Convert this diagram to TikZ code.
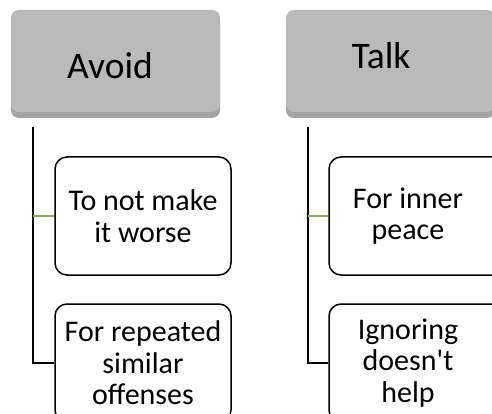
\documentclass[tikz,border=0pt]{standalone}
\usepackage{fontspec}
\setmainfont{Carlito}
\usepackage{xcolor}
\usepackage{tikz}
\usetikzlibrary{positioning, shadows}

\definecolor{headfill}{HTML}{BABABA}
\definecolor{headshade}{HTML}{A4A4A4}
\definecolor{linkgreen}{HTML}{8DAA55}

\begin{document}
\begin{tikzpicture}[x=1pt, y=-1pt]
	% 定义样式
	\tikzset{
	head/.style = {rectangle, rounded corners=8pt, fill=headfill, minimum width=209pt, minimum height=102pt,
		drop shadow={shadow xshift=0pt, shadow yshift=-6pt, fill=headshade, opacity=1}},
	headtext/.style = {font=\fontsize{37.5}{44}\selectfont, anchor=base, inner sep=0pt},
	item/.style = {rectangle, rounded corners=12pt, draw=black, line width=1.5pt, fill=white,
		minimum width=176pt, minimum height=118pt},
	itemtext/.style = {font=\fontsize{30}{31.5}\selectfont, align=center, inner sep=0pt},
	link/.style = {line width=1.3pt, black},
	greenlink/.style = {line width=1.3pt, linkgreen}
	}

	\clip (0,0) rectangle (492,414);

	% 标题
	\node[head] (avoid) at (115.5, 61) {};
	\node[headtext] (avoid-text) at (110, 79) {Avoid};
	\node[head] (talk) at (390.5, 61) {};
	\node[headtext] (talk-text) at (381, 69) {Talk};

	% 子项
	\node[item] (avoid-1) at (143, 216) {};
	\node[itemtext] (avoid-1-text) at (avoid-1.center) {To not make\\it worse};
	\node[item] (avoid-2) at (143, 363) {};
	\node[itemtext] (avoid-2-text) at (avoid-2.center) {For repeated\\similar\\offenses};
	\node[item] (talk-1) at (417, 216) {};
	\node[itemtext] (talk-1-text) at ([xshift=-9pt]talk-1.center) {For inner\\peace};
	\node[item] (talk-2) at (417, 363) {};
	\node[itemtext] (talk-2-text) at ([xshift=-9pt]talk-2.center) {Ignoring\\doesn\textquotesingle t\\help};

	% 连线
	\coordinate (avoid-root) at (33, 127);
	\coordinate (talk-root) at (308, 127);

	\draw[link] (avoid-root) |- (avoid-2.west);
	\draw[greenlink] (avoid-root |- avoid-1.west) -- (avoid-1.west);
	\draw[link] (talk-root) |- (talk-2.west);
	\draw[greenlink] (talk-root |- talk-1.west) -- (talk-1.west);

\end{tikzpicture}
\end{document}
